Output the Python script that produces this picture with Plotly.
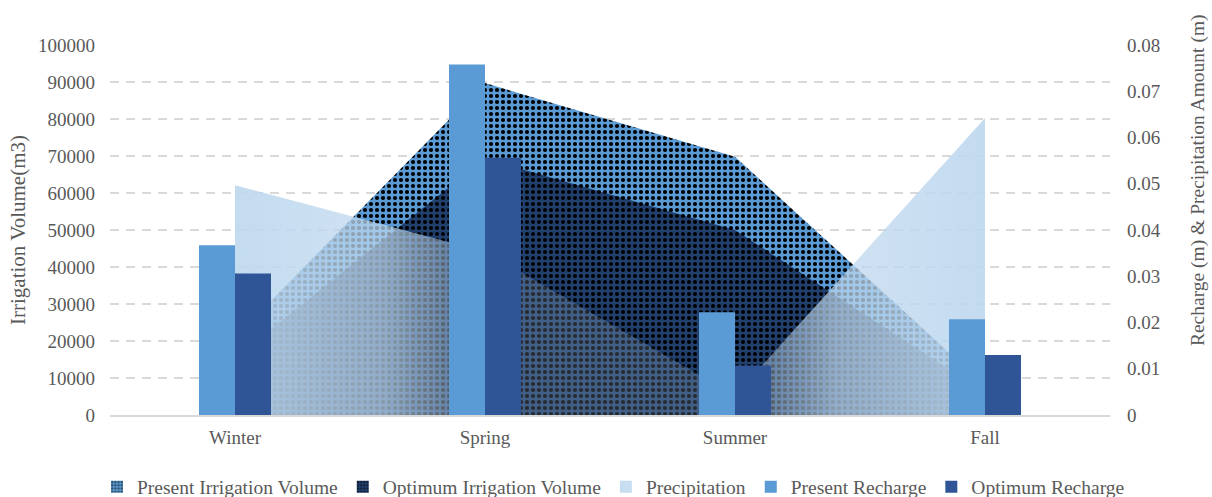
import plotly.graph_objects as go

seasons = ["Winter", "Spring", "Summer", "Fall"]
present_irrigation = [21000, 89700, 69800, 8000]
optimum_irrigation = [15500, 69300, 50000, 6000]
precipitation = [0.0497, 0.0353, 0.0042, 0.0642]
present_recharge = [0.0367, 0.0758, 0.0222, 0.0207]
optimum_recharge = [0.0306, 0.0556, 0.0107, 0.0130]

xpos = list(range(len(seasons)))
FONT = "Liberation Serif"
GREY = "#595959"
BLUE = "#5b9bd5"
NAVY_AREA = "#22406e"
NAVY_BAR = "#2f5597"
pc = "189,215,238"

pat_present = dict(shape=".", fgcolor="black", bgcolor=BLUE,
                   fillmode="replace", size=6, solidity=0.38)
pat_optimum = dict(shape=".", fgcolor="black", bgcolor=NAVY_AREA,
                   fillmode="replace", size=6, solidity=0.38)

fig = go.Figure()

fig.add_trace(go.Scatter(
    x=xpos, y=present_irrigation, name="Present Irrigation Volume",
    mode="none", fill="tozeroy", fillcolor=BLUE, fillpattern=pat_present,
    showlegend=False, yaxis="y"))
fig.add_trace(go.Scatter(
    x=xpos, y=optimum_irrigation, name="Optimum Irrigation Volume",
    mode="none", fill="tozeroy", fillcolor=NAVY_AREA, fillpattern=pat_optimum,
    showlegend=False, yaxis="y"))

fig.add_trace(go.Scatter(
    x=xpos, y=precipitation, name="Precipitation",
    mode="none", fill="tozeroy", fillcolor="rgba(%s,0.8)" % pc,
    fillgradient=dict(type="horizontal", colorscale=[
        [0.0, "rgba(%s,0.9)" % pc],
        [0.2, "rgba(%s,0.72)" % pc],
        [0.36, "rgba(%s,0.2)" % pc],
        [0.64, "rgba(%s,0.2)" % pc],
        [0.8, "rgba(%s,0.72)" % pc],
        [1.0, "rgba(%s,0.9)" % pc]]),
    showlegend=False, yaxis="y2"))

fig.add_trace(go.Bar(x=xpos, y=present_recharge, name="Present Recharge",
                     marker=dict(color=BLUE, line=dict(width=0)),
                     yaxis="y3", legendrank=4))
fig.add_trace(go.Bar(x=xpos, y=optimum_recharge, name="Optimum Recharge",
                     marker=dict(color=NAVY_BAR, line=dict(width=0)),
                     yaxis="y3", legendrank=5))

# Compact square legend swatches for the area series
fig.add_trace(go.Bar(x=[None], y=[None], name="Present Irrigation Volume",
                     marker=dict(color=BLUE, pattern=dict(shape=".", fgcolor="black", bgcolor=BLUE,
                                                          size=4, solidity=0.5),
                                 line=dict(width=0)),
                     yaxis="y", legendrank=1))
fig.add_trace(go.Bar(x=[None], y=[None], name="Optimum Irrigation Volume",
                     marker=dict(color=NAVY_AREA, pattern=dict(shape=".", fgcolor="black",
                                                               bgcolor=NAVY_AREA, size=4, solidity=0.5),
                                 line=dict(width=0)),
                     yaxis="y", legendrank=2))
fig.add_trace(go.Bar(x=[None], y=[None], name="Precipitation",
                     marker=dict(color="rgba(%s,0.85)" % pc, line=dict(width=0)),
                     yaxis="y", legendrank=3))

tickfont = dict(family=FONT, size=19, color=GREY)

fig.update_layout(
    width=1212, height=497,
    margin=dict(l=110, r=102, t=45, b=82, autoexpand=False),
    paper_bgcolor="white", plot_bgcolor="white",
    barmode="group", bargap=0.712, bargroupgap=0,
    font=dict(family=FONT, color=GREY),
    xaxis=dict(range=[-0.5, 3.5], tickvals=xpos, ticktext=seasons,
               showgrid=False, zeroline=False, showline=True,
               linecolor="#d9d9d9", linewidth=1.5, ticks="",
               tickfont=tickfont, ticklabelstandoff=4),
    yaxis=dict(range=[0, 100000], dtick=10000, tickformat="d",
               showgrid=True, gridcolor="#d9d9d9", gridwidth=2,
               griddash="9px,7px", zeroline=False, showline=False,
               tickfont=tickfont, ticklabelstandoff=14,
               title=dict(text="Irrigation Volume(m3)",
                          font=dict(family=FONT, size=21, color=GREY), standoff=6)),
    yaxis2=dict(range=[0, 0.08], dtick=0.01, overlaying="y", side="right",
                showgrid=False, zeroline=False, showline=False,
                tickfont=tickfont, ticklabelstandoff=16),
    yaxis3=dict(range=[0, 0.08], overlaying="y", visible=False),
    annotations=[dict(text="Recharge (m) & Precipitation Amount (m)",
                      xref="paper", yref="paper", x=1.088, y=0.635,
                      xanchor="center", yanchor="middle", textangle=-90,
                      showarrow=False,
                      font=dict(family=FONT, size=19.5, color=GREY))],
    legend=dict(orientation="h", xref="paper", yref="paper",
                x=1.02, xanchor="right", y=-0.195, yanchor="middle",
                font=dict(family=FONT, size=19.5, color=GREY),
                itemwidth=30, traceorder="normal"),
)

fig.write_html("out.html")
